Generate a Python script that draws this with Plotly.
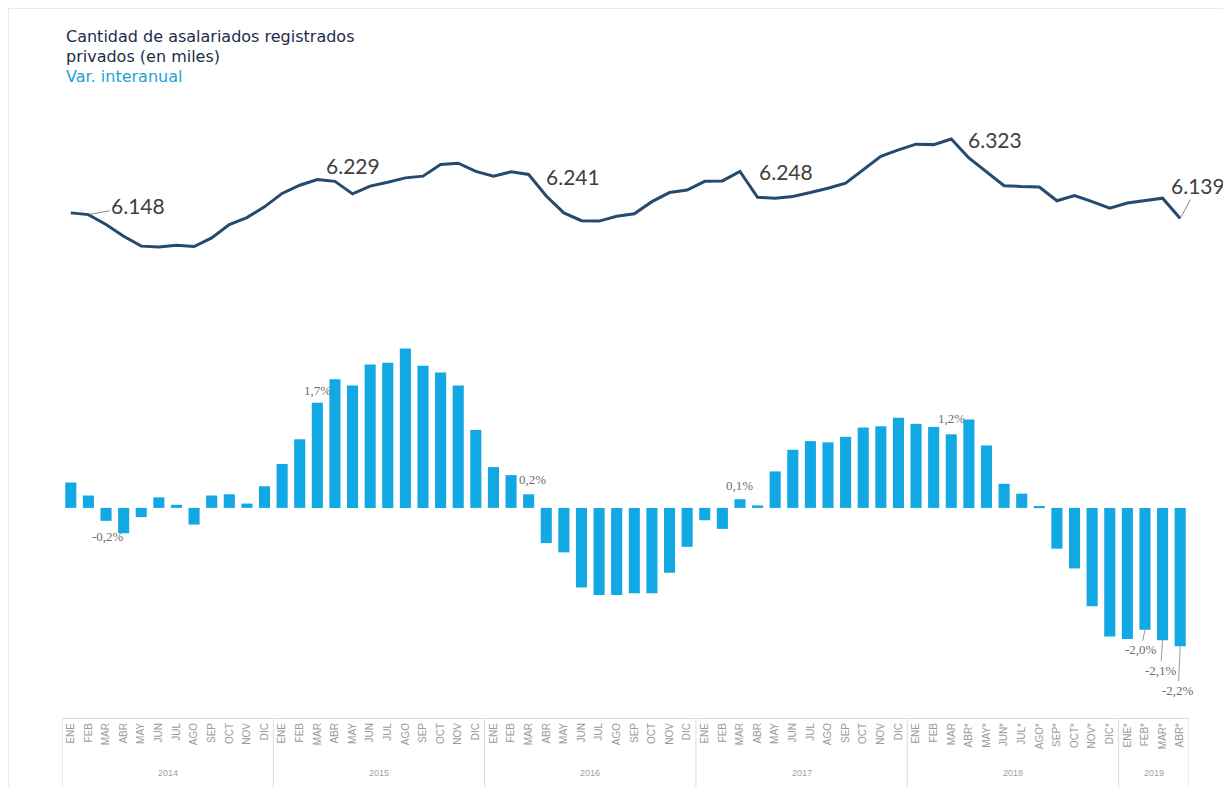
import plotly.graph_objects as go

# ---------------- data ----------------
years = ["2014", "2015", "2016", "2017", "2018", "2019"]
months_per_year = [12, 12, 12, 12, 12, 4]
month_labels = (
    ["ENE", "FEB", "MAR", "ABR", "MAY", "JUN", "JUL", "AGO", "SEP", "OCT", "NOV", "DIC"] * 4
    + ["ENE", "FEB", "MAR", "ABR*", "MAY*", "JUN*", "JUL*", "AGO*", "SEP*", "OCT*", "NOV*", "DIC*"]
    + ["ENE*", "FEB*", "MAR*", "ABR*"]
)

# private registered salaried workers (thousands)
asalariados = [
    6152, 6148, 6125, 6098, 6075, 6073, 6077, 6074, 6094, 6125, 6141, 6166,
    6197, 6216, 6229, 6225, 6196, 6214, 6223, 6233, 6237, 6264, 6267, 6248,
    6237, 6247, 6241, 6191, 6152, 6134, 6133, 6144, 6150, 6178, 6199, 6205,
    6225, 6226, 6248, 6188, 6186, 6190, 6199, 6209, 6221, 6253, 6283, 6298,
    6311, 6310, 6323, 6279, 6248, 6215, 6213, 6212, 6180, 6192, 6178, 6163,
    6175, 6181, 6186, 6139,
]

# year-on-year variation (%)
var_interanual = [
    0.41, 0.20, -0.21, -0.41, -0.15, 0.17, 0.05, -0.27, 0.20, 0.22, 0.07, 0.35,
    0.71, 1.11, 1.70, 2.08, 1.98, 2.32, 2.35, 2.58, 2.30, 2.19, 1.98, 1.26,
    0.66, 0.53, 0.22, -0.57, -0.72, -1.29, -1.41, -1.41, -1.38, -1.38, -1.05, -0.63,
    -0.20, -0.34, 0.14, 0.04, 0.59, 0.94, 1.08, 1.06, 1.15, 1.30, 1.32, 1.46,
    1.36, 1.31, 1.19, 1.43, 1.01, 0.39, 0.23, 0.03, -0.66, -0.98, -1.59, -2.08,
    -2.12, -1.97, -2.14, -2.24,
]

line_label_idx = [1, 14, 26, 38, 50, 63]
bar_label_idx = [2, 14, 26, 38, 50, 61, 62, 63]

# ---------------- build ----------------
x_idx = list(range(len(month_labels)))

LINE_COLOR = "#254a6e"
BAR_COLOR = "#12a8e3"
GRID_GRAY = "#dcdcdc"

fig = go.Figure()
fig.add_trace(go.Bar(
    x=x_idx, y=var_interanual, marker_color=BAR_COLOR, marker_line_width=0,
    yaxis="y", hoverinfo="skip",
))
fig.add_trace(go.Scatter(
    x=x_idx, y=asalariados, mode="lines",
    line=dict(color=LINE_COLOR, width=3), yaxis="y2", hoverinfo="skip",
))


def fmt_miles(v):
    return f"{v:,}".replace(",", ".")


def fmt_pct(v):
    return f"{v:.1f}".replace(".", ",") + "%"


annotations = []

line_style = {
    1: dict(showarrow=True, ax=50, ay=-9),
    14: dict(xshift=36, yshift=14),
    26: dict(xshift=44, yshift=-2),
    38: dict(xshift=46, yshift=0),
    50: dict(xshift=44, yshift=0),
    63: dict(showarrow=True, ax=18, ay=-33),
}
for i in line_label_idx:
    st = dict(showarrow=False)
    st.update(line_style[i])
    if st.get("showarrow"):
        st.update(arrowhead=0, arrowwidth=1, arrowcolor="#8a8a8a", standoff=2)
    annotations.append(dict(
        x=i, y=asalariados[i], xref="x", yref="y2",
        text=fmt_miles(asalariados[i]),
        font=dict(family="Lato, Liberation Sans, sans-serif", size=21, color="#404040"),
        **st,
    ))

bar_style = {
    2: dict(xshift=2, yshift=-16),
    14: dict(xshift=0, yshift=12),
    26: dict(xshift=4, yshift=15),
    38: dict(xshift=0, yshift=14),
    50: dict(xshift=0, yshift=16),
    61: dict(showarrow=True, ax=-4, ay=20),
    62: dict(showarrow=True, ax=-2, ay=30),
    63: dict(showarrow=True, ax=-2, ay=44),
}
for i in bar_label_idx:
    st = dict(showarrow=False)
    st.update(bar_style[i])
    if st.get("showarrow"):
        st.update(arrowhead=0, arrowwidth=1, arrowcolor="#9a9a9a", standoff=0)
    annotations.append(dict(
        x=i, y=var_interanual[i], xref="x", yref="y",
        text=fmt_pct(var_interanual[i]),
        font=dict(family="Liberation Serif, serif", size=13, color="#6e6e6e"),
        **st,
    ))

# year labels and group dividers (derived from months_per_year)
shapes = []
start = 0
for yr, n in zip(years, months_per_year):
    annotations.append(dict(
        x=start + (n - 1) / 2, y=-0.089, xref="x", yref="paper",
        text=yr, showarrow=False, yanchor="middle",
        font=dict(family="Liberation Sans, sans-serif", size=9, color="#a0a0a0"),
    ))
    shapes.append(dict(type="line", xref="x", yref="paper",
                       x0=start - 0.5, x1=start - 0.5, y0=0, y1=-0.14,
                       line=dict(color=GRID_GRAY, width=1)))
    start += n
shapes.append(dict(type="line", xref="x", yref="paper",
                   x0=start - 0.5, x1=start - 0.5, y0=0, y1=-0.14,
                   line=dict(color=GRID_GRAY, width=1)))

# title block
title_font = "DejaVu Sans, sans-serif"
annotations += [
    dict(xref="paper", yref="paper", x=0.002, y=1.102, xanchor="left", yanchor="middle",
         text="Cantidad de asalariados registrados", showarrow=False,
         font=dict(family=title_font, size=16, color="#1d2d4a")),
    dict(xref="paper", yref="paper", x=0.002, y=1.070, xanchor="left", yanchor="middle",
         text="privados (en miles)", showarrow=False,
         font=dict(family=title_font, size=16, color="#1d2d4a")),
    dict(xref="paper", yref="paper", x=0.002, y=1.038, xanchor="left", yanchor="middle",
         text="Var. interanual", showarrow=False,
         font=dict(family=title_font, size=16, color="#1ba3d6")),
]

# outer frame
shapes.append(dict(type="rect", xref="paper", yref="paper", x0=-0.0479, x1=1.0346, y0=-0.25, y1=1.1489,
                   line=dict(color="#e4e4e4", width=1.5), fillcolor="rgba(0,0,0,0)", layer="below"))

fig.update_layout(
    width=1231, height=787,
    margin=dict(l=54, r=50, t=92, b=77, autoexpand=False),
    paper_bgcolor="white", plot_bgcolor="white",
    showlegend=False, bargap=0.37,
    xaxis=dict(
        range=[-0.5, len(month_labels) - 0.5],
        tickmode="array", tickvals=x_idx, ticktext=month_labels,
        showgrid=False, zeroline=False,
        showline=True, linecolor=GRID_GRAY, linewidth=1,
        tickangle=-90, ticks="",
        tickfont=dict(family="Liberation Sans, sans-serif", size=10, color="#9a9a9a"),
        fixedrange=True,
    ),
    yaxis=dict(domain=[0, 0.66], range=[-3.40, 3.20], visible=False, fixedrange=True),
    yaxis2=dict(domain=[0.70, 1.0], range=[5984.1, 6413.3], visible=False, fixedrange=True),
    annotations=annotations, shapes=shapes,
)

fig.write_html("out.html")
